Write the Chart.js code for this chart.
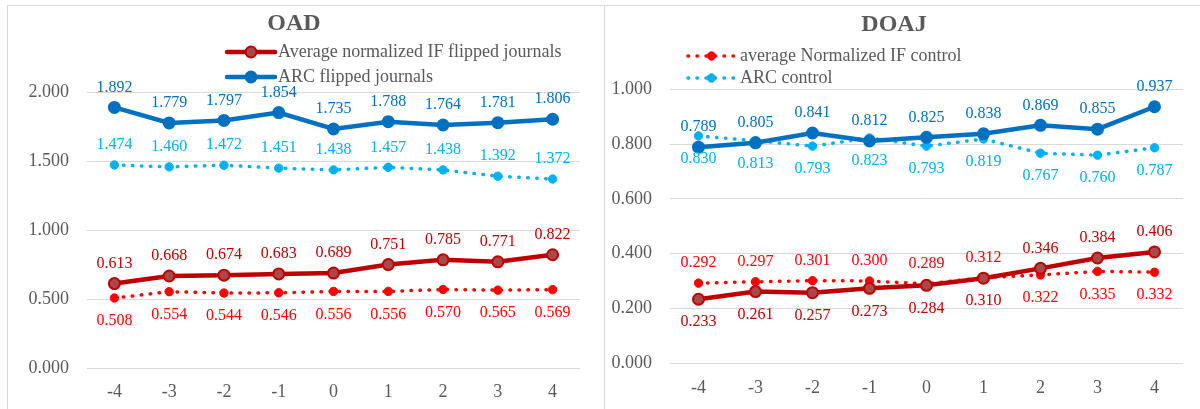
<!DOCTYPE html>
<html lang="en">
<head>
<meta charset="UTF-8">
<title>OAD / DOAJ</title>
<script src="https://cdn.jsdelivr.net/npm/chart.js"></script>
<style>
  body { margin: 0; background: #fff; }
  .panel { position: absolute; top: 5px; height: 404px; border-top: 1px solid #D9D9D9; }
  #leftPanel { left: 7px; width: 596px; border-left: 1px solid #D9D9D9; border-right: 1px solid #D9D9D9; }
  #rightPanel { left: 605px; width: 595px; }
  canvas { display: block; }
</style>
</head>
<body>
<div class="panel" id="leftPanel"><canvas id="oadChart" width="596" height="404"></canvas></div>
<div class="panel" id="rightPanel"><canvas id="doajChart" width="595" height="404"></canvas></div>

<script>
// x categories (years relative to flip)
const years = ['-4', '-3', '-2', '-1', '0', '1', '2', '3', '4'];

// OAD panel
const oadIfFlipped  = [0.613, 0.668, 0.674, 0.683, 0.689, 0.751, 0.785, 0.771, 0.822];
const oadArcFlipped = [1.892, 1.779, 1.797, 1.854, 1.735, 1.788, 1.764, 1.781, 1.806];
const oadIfControl  = [0.508, 0.554, 0.544, 0.546, 0.556, 0.556, 0.570, 0.565, 0.569];
const oadArcControl = [1.474, 1.460, 1.472, 1.451, 1.438, 1.457, 1.438, 1.392, 1.372];

// DOAJ panel
const doajIfFlipped  = [0.233, 0.261, 0.257, 0.273, 0.284, 0.310, 0.346, 0.384, 0.406];
const doajArcFlipped = [0.789, 0.805, 0.841, 0.812, 0.825, 0.838, 0.869, 0.855, 0.937];
const doajIfControl  = [0.292, 0.297, 0.301, 0.300, 0.289, 0.312, 0.322, 0.335, 0.332];
const doajArcControl = [0.830, 0.813, 0.793, 0.823, 0.793, 0.819, 0.767, 0.760, 0.787];

// y axis ticks
const oadYTicks  = [0, 0.5, 1.0, 1.5, 2.0];
const doajYTicks = [0, 0.2, 0.4, 0.6, 0.8, 1.0];

const seriesNames = ['Average normalized IF flipped journals', 'ARC flipped journals',
                     'average Normalized IF control', 'ARC control'];

const FONT = '"Liberation Serif", "Times New Roman", serif';
const GREY = '#595959';

function makeDatasets(ifFlip, arcFlip, ifCtrl, arcCtrl, pos) {
  const solid = { borderWidth: 4.5, pointRadius: 5.5, pointBorderWidth: 2, order: 1, tension: 0 };
  const dotted = { borderWidth: 3.5, borderDash: [0.5, 8.5], borderCapStyle: 'round', pointRadius: 4.2,
                   pointBorderWidth: 1, order: 2, tension: 0 };
  return [
    Object.assign({}, solid, { label: seriesNames[0], data: ifFlip, borderColor: '#C00000',
      pointBackgroundColor: '#A84848', pointBorderColor: '#C00000', labelColor: '#C00000' }, pos[0]),
    Object.assign({}, solid, { label: seriesNames[1], data: arcFlip, borderColor: '#0070C0',
      pointBackgroundColor: '#0070C0', pointBorderColor: '#0070C0', labelColor: '#0070C0' }, pos[1]),
    Object.assign({}, dotted, { label: seriesNames[2], data: ifCtrl, borderColor: '#FF0000',
      pointBackgroundColor: '#FF0000', pointBorderColor: '#FF0000', labelColor: '#FF0000' }, pos[2]),
    Object.assign({}, dotted, { label: seriesNames[3], data: arcCtrl, borderColor: '#00B0F0',
      pointBackgroundColor: '#00B0F0', pointBorderColor: '#00B0F0', labelColor: '#00B0F0' }, pos[3])
  ];
}

// value labels above / below each point
const valueLabels = {
  id: 'valueLabels',
  afterDatasetsDraw(chart) {
    const ctx = chart.ctx;
    ctx.save();
    ctx.font = '16px ' + FONT;
    ctx.textAlign = 'center';
    ctx.textBaseline = 'middle';
    chart.data.datasets.forEach((ds, di) => {
      const meta = chart.getDatasetMeta(di);
      meta.data.forEach((pt, i) => {
        let above = ds.labelPos === 'above';
        if (ds.labelPos === 'away') {
          above = ds.data[i] >= chart.data.datasets[ds.labelPartner].data[i];
        }
        ctx.fillStyle = ds.labelColor;
        ctx.fillText(ds.data[i].toFixed(3), pt.x, pt.y + (above ? -20 : 23));
      });
    });
    ctx.restore();
  }
};

// Excel-like legend: line + marker samples stacked vertically
const boxLegend = {
  id: 'boxLegend',
  afterDraw(chart, args, opts) {
    const ctx = chart.ctx;
    ctx.save();
    opts.items.forEach((di, k) => {
      const ds = chart.data.datasets[di];
      const y = opts.y + k * opts.rowGap;
      ctx.strokeStyle = ds.borderColor;
      ctx.lineWidth = ds.borderWidth;
      ctx.lineCap = 'round';
      ctx.setLineDash(ds.borderDash || []);
      ctx.beginPath();
      ctx.moveTo(opts.x, y);
      ctx.lineTo(opts.x + opts.lineLen, y);
      ctx.stroke();
      ctx.setLineDash([]);
      ctx.beginPath();
      ctx.arc(opts.x + opts.lineLen / 2, y, ds.pointRadius, 0, Math.PI * 2);
      ctx.fillStyle = ds.pointBackgroundColor;
      ctx.fill();
      ctx.lineWidth = ds.pointBorderWidth;
      ctx.strokeStyle = ds.pointBorderColor;
      ctx.stroke();
      ctx.fillStyle = GREY;
      ctx.font = '18px ' + FONT;
      ctx.textAlign = 'left';
      ctx.textBaseline = 'middle';
      ctx.fillText(ds.label, opts.x + opts.lineLen + opts.gap, y);
    });
    ctx.restore();
  }
};

function makeChart(id, title, datasets, yTicks, cfg) {
  return new Chart(document.getElementById(id), {
    type: 'line',
    data: { labels: years, datasets: datasets },
    plugins: [valueLabels, boxLegend],
    options: {
      responsive: false,
      animation: false,
      devicePixelRatio: 1,
      layout: { padding: { left: 0, right: cfg.padRight, top: 0, bottom: cfg.padBottom } },
      plugins: {
        legend: { display: false },
        tooltip: { enabled: false },
        title: {
          display: true, text: title, color: GREY,
          font: { family: FONT, size: 24, weight: 'bold' },
          padding: { top: cfg.titleTop, bottom: cfg.titleBottom }
        },
        boxLegend: cfg.legend
      },
      scales: {
        x: {
          offset: true,
          grid: { display: false, drawTicks: false },
          border: { display: false },
          ticks: { color: GREY, font: { family: FONT, size: 18 }, padding: cfg.xPad },
          afterFit: (s) => { s.height = 40; }
        },
        y: {
          min: yTicks[0],
          max: yTicks[yTicks.length - 1],
          afterBuildTicks: (s) => { s.ticks = yTicks.map(v => ({ value: v })); },
          grid: { color: '#D9D9D9', lineWidth: 1, drawTicks: false },
          border: { display: false },
          ticks: {
            color: GREY, font: { family: FONT, size: 18 }, padding: 18,
            callback: (v) => Number(v).toFixed(3)
          },
          afterFit: (s) => { s.width = cfg.yWidth; }
        }
      }
    }
  });
}

makeChart('oadChart', 'OAD',
  makeDatasets(oadIfFlipped, oadArcFlipped, oadIfControl, oadArcControl, [
    { labelPos: 'above' }, { labelPos: 'above' }, { labelPos: 'below' }, { labelPos: 'above' }
  ]),
  oadYTicks,
  { padRight: 24, padBottom: 2, titleTop: 3, titleBottom: 54.7, xPad: 13, yWidth: 79,
    legend: { items: [0, 1], x: 219, y: 46, rowGap: 25, lineLen: 48, gap: 3 } });

makeChart('doajChart', 'DOAJ',
  makeDatasets(doajIfFlipped, doajArcFlipped, doajIfControl, doajArcControl, [
    { labelPos: 'away', labelPartner: 2 }, { labelPos: 'above' },
    { labelPos: 'away', labelPartner: 0 }, { labelPos: 'below' }
  ]),
  doajYTicks,
  { padRight: 17, padBottom: 7, titleTop: 4, titleBottom: 50.7, xPad: 14, yWidth: 65,
    legend: { items: [2, 3], x: 83, y: 50, rowGap: 22, lineLen: 47, gap: 5 } });
</script>
</body>
</html>
